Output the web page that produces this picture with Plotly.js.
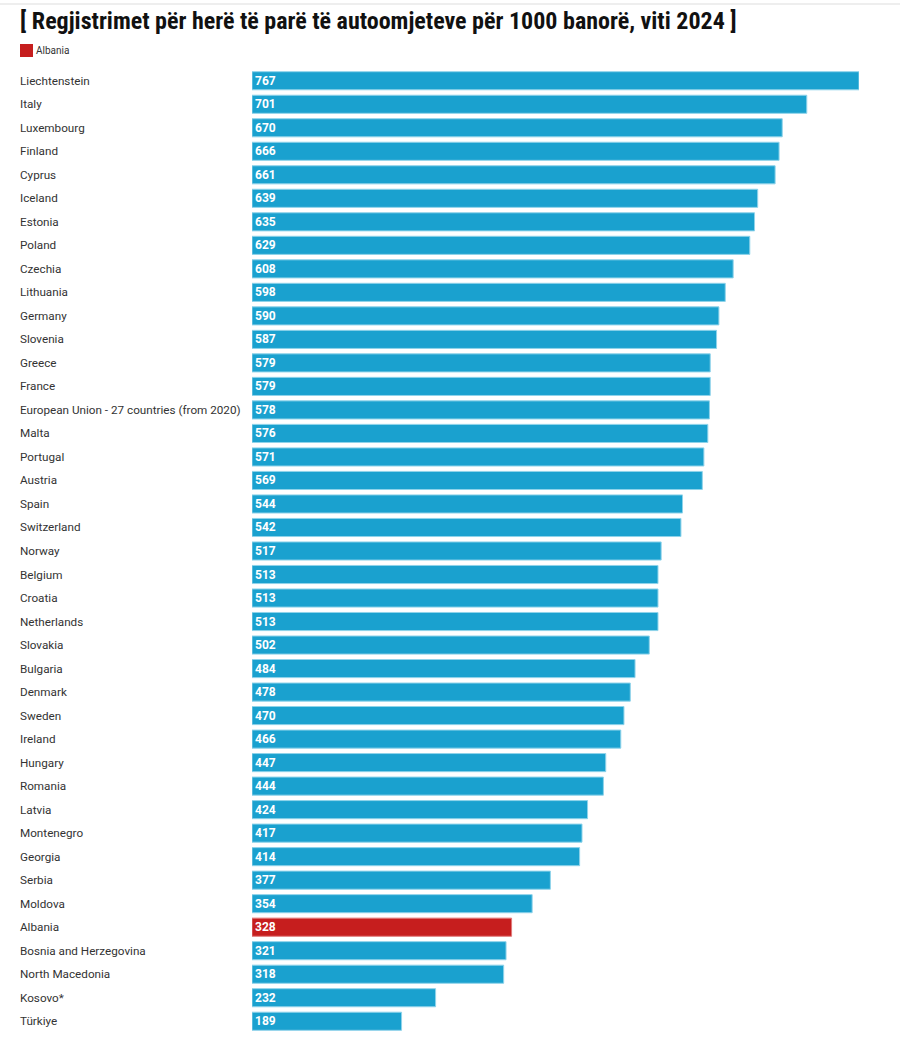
<!DOCTYPE html>
<html><head><meta charset="utf-8">
<script src="https://cdn.plot.ly/plotly-3.0.1.min.js"></script>
<style>html,body{margin:0;padding:0;background:#fff}#chart{width:900px;height:1037px}</style>
</head><body><div id="chart"></div>
<script>
const countries = ["Liechtenstein","Italy","Luxembourg","Finland","Cyprus","Iceland","Estonia","Poland","Czechia","Lithuania","Germany","Slovenia","Greece","France","European Union - 27 countries (from 2020)","Malta","Portugal","Austria","Spain","Switzerland","Norway","Belgium","Croatia","Netherlands","Slovakia","Bulgaria","Denmark","Sweden","Ireland","Hungary","Romania","Latvia","Montenegro","Georgia","Serbia","Moldova","Albania","Bosnia and Herzegovina","North Macedonia","Kosovo*","Türkiye"];
const values = [767,701,670,666,661,639,635,629,608,598,590,587,579,579,578,576,571,569,544,542,517,513,513,513,502,484,478,470,466,447,444,424,417,414,377,354,328,321,318,232,189];
const highlight = "Albania";
const titleText = "[ Regjistrimet për herë të parë të autoomjeteve për 1000 banorë, viti 2024 ]";

const BLUE = "#1aa1cf", RED = "#c61e1e";
const others = countries.map((c,i)=>c===highlight?null:i).filter(i=>i!==null);
const hi = countries.map((c,i)=>c===highlight?i:null).filter(i=>i!==null);

const mk = (idx, color, name) => ({
  type:"bar", orientation:"h",
  y: idx.map(i=>countries[i]), x: idx.map(i=>values[i]),
  text: idx.map(i=>String(values[i])),
  textposition:"inside", insidetextanchor:"start", textangle:0,
  textfont:{family:"Roboto", size:12, color:"#ffffff", weight:"bold"},
  constraintext:"none",
  marker:{color:color, line:{color: color===BLUE?"#8fd3ea":"#e07a7a", width:1}},
  name:name, showlegend:false, hoverinfo:"x+y", cliponaxis:false
});

const L = 252, R = 41, T = 69, B = 4, W = 900, H = 1037;
const pw = W-L-R, ph = H-T-B;
const px = v => (v-L)/pw;           // pixel x -> paper x
const py = v => 1 + (T-v)/ph;       // pixel y -> paper y
const annotations = countries.map(c=>({
  xref:"paper", yref:"y", x:px(18), y:c, text:c, showarrow:false,
  xanchor:"left", yanchor:"middle",
  font:{family:"Roboto", size:11.7, color:"#333333"}
}));
annotations.push({xref:"paper", yref:"paper", x:px(34), y:py(50.5), text:highlight, showarrow:false,
  xanchor:"left", yanchor:"middle", font:{family:"Roboto", size:10, color:"#333333"}});

const layout = {
  width:W, height:H,
  margin:{l:L, r:R, t:T, b:B},
  paper_bgcolor:"#ffffff", plot_bgcolor:"#ffffff",
  barmode:"overlay", bargap:0.23,
  title:{text:"<b>"+titleText+"</b>", xref:"container", yref:"container",
    x:20/W, xanchor:"left", y:1-21/H, yanchor:"middle",
    font:{family:"Liberation Sans Narrow, Roboto Condensed, Roboto", size:24, color:"#111111"}},
  xaxis:{range:[0,767], visible:false, fixedrange:true},
  yaxis:{type:"category", categoryorder:"array", categoryarray:countries,
    autorange:"reversed", showticklabels:false, showgrid:false, zeroline:false, showline:false, ticks:""},
  showlegend:false,
  annotations: annotations,
  shapes:[
    {type:"line", xref:"paper", yref:"paper", x0:px(0), x1:px(W), y0:py(4), y1:py(4), line:{color:"#dddddd", width:1}},
    {type:"rect", xref:"paper", yref:"paper", x0:px(20), x1:px(33), y0:py(44), y1:py(57), fillcolor:RED, line:{width:0}}
  ]
};

Plotly.newPlot("chart", [mk(others, BLUE, "Others"), mk(hi, RED, "Albania")], layout, {displayModeBar:false, staticPlot:true});
</script></body></html>
